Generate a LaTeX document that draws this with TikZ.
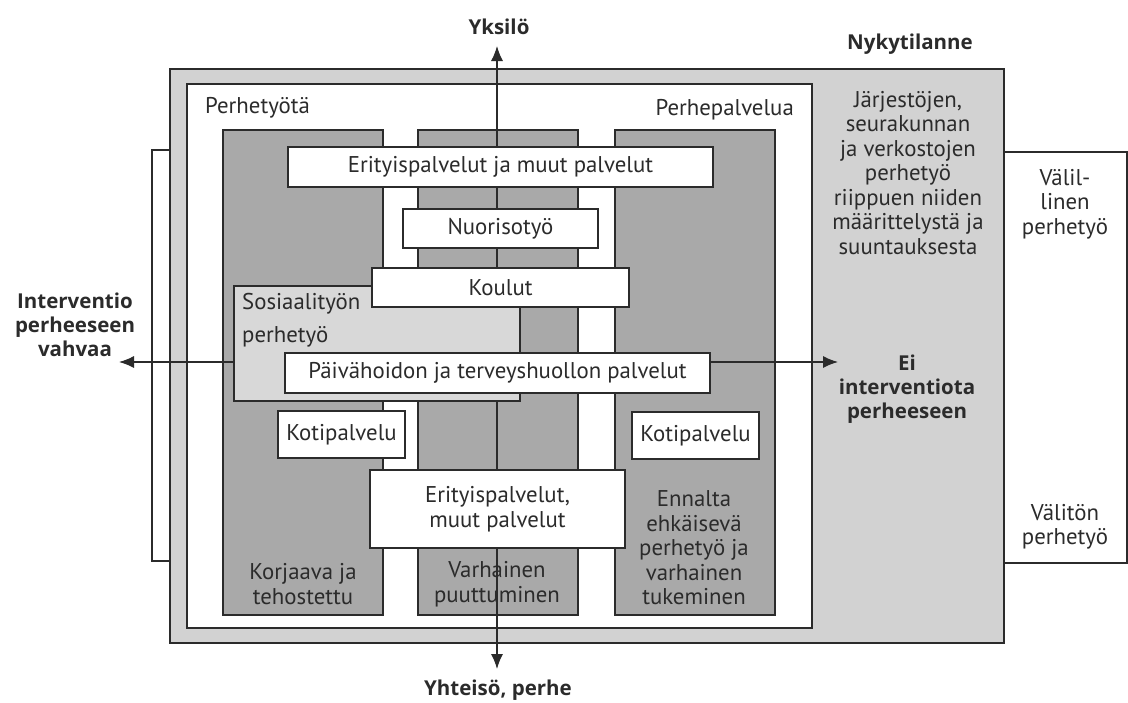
\documentclass[tikz,border=0pt]{standalone}
\usepackage{fontspec}
\setmainfont{PT Sans}
\newfontfamily\headfont{Open Sans}
\usetikzlibrary{arrows.meta}
\definecolor{outergray}{HTML}{D2D2D2}
\definecolor{colgray}{HTML}{A9A9A9}
\definecolor{sosgray}{HTML}{D8D8D8}
\definecolor{ink}{HTML}{2B2B2B}
\newcommand\mylbl{\fontsize{22.8}{24.5}\selectfont}
\newcommand\myhead{\headfont\bfseries\fontsize{20.5}{24}\selectfont}
\begin{document}
\begin{tikzpicture}[x=1pt,y=-1pt,
  panel/.style={draw=ink, line width=1.3pt, inner sep=0pt, outer sep=0pt, anchor=north west},
  whitebox/.style={panel, fill=white, font=\mylbl, text=ink},
  colbox/.style={panel, fill=colgray, minimum width=160pt, minimum height=485pt},
  lbl/.style={font=\mylbl, text=ink, align=center, inner sep=0pt},
  bold/.style={font=\myhead, text=ink, align=center, inner sep=0pt},
  arr/.style={{Latex[length=15pt,width=12pt]}-{Latex[length=15pt,width=12pt]}, line width=1.2pt, draw=ink},
  bracket/.style={draw=ink, line width=1.3pt}]
\useasboundingbox (0,0) rectangle (1128,702);
% frames
\node[panel, fill=outergray, minimum width=834pt, minimum height=574pt] (outer) at (170,69) {};
\node[panel, fill=white, minimum width=625pt, minimum height=544pt] (inner) at (187,84) {};
% columns
\node[colbox] (colL) at (223,130) {};
\node[colbox] (colM) at (418,130) {};
\node[colbox] (colR) at (615,130) {};
% axes
\coordinate (ytop) at (497,46);
\coordinate (ybot) at (497,669);
\coordinate (xl) at (119,362);
\coordinate (xr) at (838,362);
\draw[arr] (ybot) -- (ytop);
\draw[arr] (xl) -- (xr);
% brackets
\coordinate (lb1) at (170,150);
\coordinate (lb2) at (152,150);
\coordinate (lb3) at (152,561);
\coordinate (lb4) at (170,561);
\draw[bracket] (lb1) -- (lb2) -- (lb3) -- (lb4);
\coordinate (rb1) at (1004,152);
\coordinate (rb2) at (1127,152);
\coordinate (rb3) at (1127,563);
\coordinate (rb4) at (1004,563);
\draw[bracket] (rb1) -- (rb2) -- (rb3) -- (rb4);
% social work box
\node[panel, fill=sosgray, minimum width=286pt, minimum height=115pt] (sos) at (234,286) {};
\node[lbl, align=left, anchor=west] (sostxt) at (242,320) {Sosiaalityön\\[8pt]perhetyö};
% white boxes
\node[whitebox, minimum width=425pt, minimum height=40pt] (eri) at (288,147) {Erityispalvelut ja muut palvelut};
\node[whitebox, minimum width=195pt, minimum height=39pt] (nuo) at (403,209) {Nuorisotyö};
\node[whitebox, minimum width=257pt, minimum height=39pt] (kou) at (372,268) {Koulut};
\node[whitebox, minimum width=425pt, minimum height=40pt] (pai) at (285,353) {Päivähoidon ja terveyshuollon palvelut};
\node[whitebox, minimum width=127pt, minimum height=47pt] (kotL) at (278,411) {Kotipalvelu};
\node[whitebox, minimum width=127pt, minimum height=47pt] (kotR) at (632,412) {Kotipalvelu};
\node[whitebox, minimum width=255pt, minimum height=78pt, align=center] (erim) at (370,470) {Erityispalvelut,\\muut palvelut};
% column labels
\node[lbl] (korj) at (303,584) {Korjaava ja\\tehostettu};
\node[lbl] (varh) at (497,584) {Varhainen\\puuttuminen};
\node[lbl] (enn) at (694,548) {Ennalta\\ehkäisevä\\perhetyö ja\\varhainen\\tukeminen};
% headings
\node[lbl, anchor=west] (perhetyota) at (205,108) {Perhetyötä};
\node[lbl, anchor=east] (perhepalv) at (794,110) {Perhepalvelua};
\node[lbl] (jarj) at (908,173) {Järjestöjen,\\seurakunnan\\ja verkostojen\\perhetyö\\riippuen niiden\\määrittelystä ja\\suuntauksesta};
\node[lbl] (valil) at (1065,204) {Välil-\\linen\\perhetyö};
\node[lbl] (valit) at (1065,527) {Välitön\\perhetyö};
\node[bold] (yks) at (499,27) {Yksilö};
\node[bold] (nyky) at (910,44) {Nykytilanne};
\node[bold] (yht) at (498,690) {Yhteisö, perhe};
\node[bold] (int) at (75,325) {Interventio\\perheeseen\\vahvaa};
\node[bold] (ei) at (907,389) {Ei\\interventiota\\perheeseen};
\end{tikzpicture}
\end{document}
